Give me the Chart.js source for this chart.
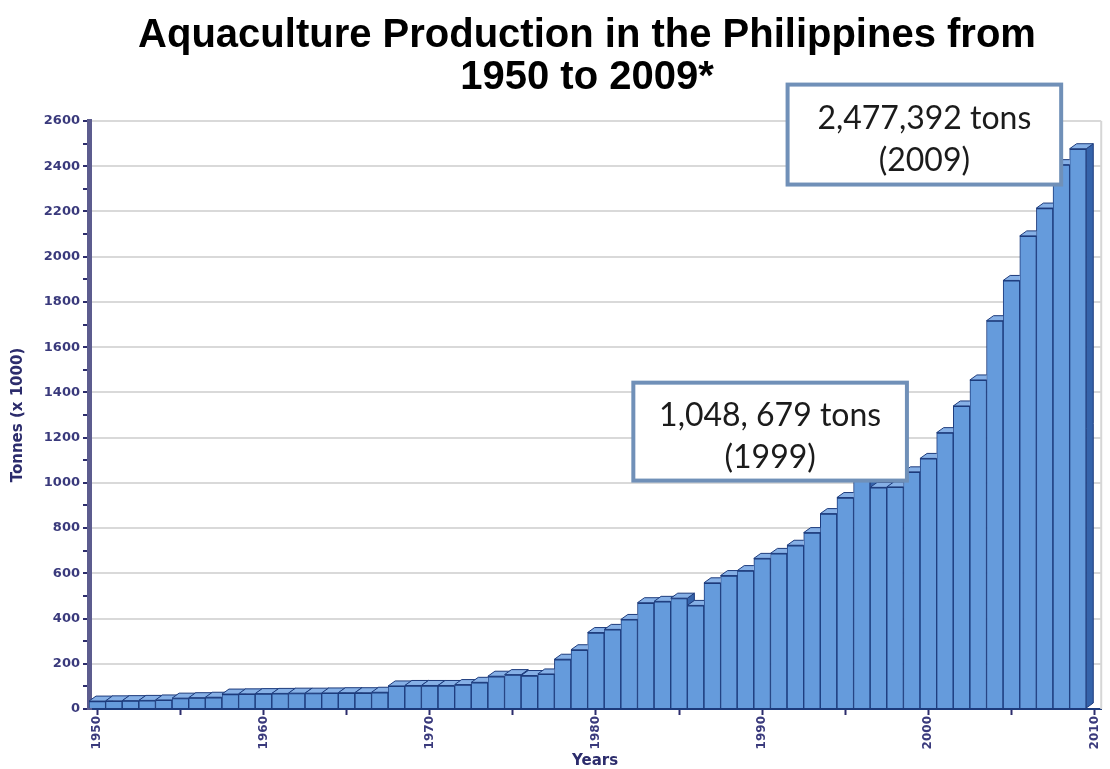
<!DOCTYPE html>
<html>
<head>
<meta charset="utf-8">
<title>Aquaculture Production in the Philippines, 1950–2009</title>
<script src="https://cdn.jsdelivr.net/npm/chart.js@4.4.1/dist/chart.umd.min.js"></script>
<style>
  html, body { margin: 0; padding: 0; background: #ffffff; }
  #wrap { width: 1110px; height: 769px; }
</style>
</head>
<body>
<div id="wrap"><canvas id="chart" width="1110" height="769"></canvas></div>
<script>
// Years on the horizontal axis
const years = [
  1950, 1951, 1952, 1953, 1954, 1955, 1956, 1957, 1958, 1959,
  1960, 1961, 1962, 1963, 1964, 1965, 1966, 1967, 1968, 1969,
  1970, 1971, 1972, 1973, 1974, 1975, 1976, 1977, 1978, 1979,
  1980, 1981, 1982, 1983, 1984, 1985, 1986, 1987, 1988, 1989,
  1990, 1991, 1992, 1993, 1994, 1995, 1996, 1997, 1998, 1999,
  2000, 2001, 2002, 2003, 2004, 2005, 2006, 2007, 2008, 2009
];

// Aquaculture production, tonnes x 1000
const production = [
  35, 36, 37, 38, 40, 48, 50, 52, 66, 67,
  68, 69, 70, 70, 71, 72, 72, 74, 102, 104,
  104, 104, 108, 118, 145, 152, 148, 155, 220, 262,
  338, 352, 396, 470, 476, 490, 458, 558, 590, 612,
  666, 688, 724, 780, 864, 935, 1010, 980, 982, 1048.679,
  1108, 1222, 1340, 1455, 1717, 1895, 2092, 2215, 2407, 2477.392
];

// Tick marks on the year axis; only the decades carry a label
const yearTicks = [1950, 1955, 1960, 1965, 1970, 1975, 1980, 1985, 1990, 1995, 2000, 2005, 2010];
const yearLabels = [1950, 1960, 1970, 1980, 1990, 2000, 2010];

// Tonnage axis: labelled every 200, small ticks every 100
const tonnesMax = 2600;
const tonnesLabelStep = 200;

// Heading lines
const titleLines = ['Aquaculture Production in the Philippines from', '1950 to 2009*'];

// Text of the two call-out boxes
const calloutText = [
  ['1,048, 679 tons', '(1999)'],
  ['2,477,392 tons', '(2009)']
];
// Where each call-out box sits, in axis units (year, tonnes x 1000)
const calloutFrames = [
  { x0: 1982.25, x1: 1998.71, y0: 1443, y1: 1010 },
  { x0: 1991.53, x1: 2007.99, y0: 2761, y1: 2319 }
];

const NAVY = '#2c2c6c';
const BAR_FILL = '#659bdc';
const BAR_EDGE = '#1d3b7c';
const BAR_TOP = '#86b0e6';
const BAR_SIDE = '#3563aa';

// Two-line heading above the plot
const heading = {
  id: 'heading',
  afterDraw(chart) {
    const ctx = chart.ctx;
    ctx.save();
    ctx.fillStyle = '#000000';
    ctx.font = 'bold 40px "Liberation Sans"';
    ctx.textAlign = 'center';
    ctx.textBaseline = 'middle';
    titleLines.forEach((t, k) => ctx.fillText(t, 587, 36 + k * 42));
    ctx.restore();
  }
};

// Draws the oblique top and right faces that give the bars their depth
const barDepth = {
  id: 'barDepth',
  afterDatasetsDraw(chart) {
    const ctx = chart.ctx;
    const bars = chart.getDatasetMeta(0).data;
    const dx = 7, dy = 5;
    bars.forEach((bar, i) => {
      const p = bar.getProps(['x', 'y', 'base', 'width'], true);
      const l = p.x - p.width / 2, r = p.x + p.width / 2;
      ctx.save();
      ctx.beginPath();
      ctx.rect(0, 0, chart.width, chart.height);
      const next = bars[i + 1];
      if (next) {
        const n = next.getProps(['x', 'y', 'base', 'width'], true);
        ctx.rect(n.x - n.width / 2, n.y, n.width, n.base - n.y);
      }
      ctx.clip('evenodd');
      ctx.lineWidth = 1;
      ctx.strokeStyle = BAR_EDGE;
      // right side face
      ctx.beginPath();
      ctx.moveTo(r, p.y);
      ctx.lineTo(r + dx, p.y - dy);
      ctx.lineTo(r + dx, p.base - dy);
      ctx.lineTo(r, p.base);
      ctx.closePath();
      ctx.fillStyle = BAR_SIDE;
      ctx.fill();
      ctx.stroke();
      // top face
      ctx.beginPath();
      ctx.moveTo(l, p.y);
      ctx.lineTo(l + dx, p.y - dy);
      ctx.lineTo(r + dx, p.y - dy);
      ctx.lineTo(r, p.y);
      ctx.closePath();
      ctx.fillStyle = BAR_TOP;
      ctx.fill();
      ctx.stroke();
      ctx.restore();
    });
  }
};

// Light frame line on the right edge of the plot
const plotEdge = {
  id: 'plotEdge',
  beforeDatasetsDraw(chart) {
    const { ctx, chartArea: a } = chart;
    ctx.save();
    ctx.strokeStyle = '#d6d6d6';
    ctx.lineWidth = 2;
    ctx.beginPath();
    ctx.moveTo(a.right, a.top);
    ctx.lineTo(a.right, a.bottom);
    ctx.stroke();
    ctx.restore();
  }
};

// White boxes with a blue-grey border holding the call-out text
const callouts = {
  id: 'callouts',
  afterDraw(chart) {
    const { ctx, scales: { x, y } } = chart;
    calloutFrames.forEach((f, i) => {
      const left = x.getPixelForValue(f.x0);
      const right = x.getPixelForValue(f.x1);
      const top = y.getPixelForValue(f.y0);
      const bottom = y.getPixelForValue(f.y1);
      ctx.save();
      ctx.fillStyle = '#ffffff';
      ctx.fillRect(left, top, right - left, bottom - top);
      ctx.lineWidth = 4;
      ctx.strokeStyle = '#7090b8';
      ctx.strokeRect(left, top, right - left, bottom - top);
      ctx.fillStyle = '#1b1b1b';
      ctx.font = '32px Lato';
      ctx.textAlign = 'center';
      ctx.textBaseline = 'middle';
      const cx = (left + right) / 2;
      const cy = (top + bottom) / 2 + 5;
      const lines = calloutText[i];
      const gap = 42;
      lines.forEach((t, k) => {
        ctx.fillText(t, cx, cy + (k - (lines.length - 1) / 2) * gap);
      });
      ctx.restore();
    });
  }
};

Chart.defaults.font.family = 'DejaVu Sans';

new Chart(document.getElementById('chart'), {
  type: 'bar',
  data: {
    datasets: [{
      data: years.map((yr, i) => ({ x: yr, y: production[i] })),
      backgroundColor: BAR_FILL,
      borderColor: BAR_EDGE,
      borderWidth: { left: 1, right: 1, top: 1.5, bottom: 0 },
      borderSkipped: false,
      barPercentage: 1,
      categoryPercentage: 1
    }]
  },
  options: {
    responsive: false,
    animation: false,
    layout: { padding: { left: 0, right: 4, top: 121, bottom: 0 } },
    plugins: {
      legend: { display: false },
      tooltip: { enabled: false },
      title: { display: false }
    },
    scales: {
      x: {
        type: 'linear',
        min: 1949.5,
        max: 2010.4,
        offset: false,
        afterBuildTicks: (scale) => { scale.ticks = yearTicks.map(v => ({ value: v })); },
        afterFit: (scale) => { scale.height = 60; },
        ticks: {
          autoSkip: false,
          minRotation: 90,
          maxRotation: 90,
          padding: 1,
          color: '#3a3a7c',
          font: { size: 12, weight: 'bold' },
          callback: (v) => (yearLabels.includes(v) ? String(v) : '')
        },
        grid: {
          offset: false,
          drawOnChartArea: false,
          drawTicks: true,
          tickLength: 6,
          tickColor: NAVY,
          tickWidth: 2
        },
        border: { display: true, color: BAR_EDGE, width: 2 },
        title: {
          display: true,
          text: 'Years',
          color: NAVY,
          font: { size: 15, weight: 'bold', lineHeight: 1 },
          padding: { top: 0, bottom: 0 }
        }
      },
      y: {
        min: 0,
        max: tonnesMax,
        afterFit: (scale) => { scale.width = 89; },
        ticks: {
          stepSize: 100,
          autoSkip: false,
          padding: 3,
          color: '#3a3a7c',
          font: { size: 13, weight: 'bold' },
          callback: (v) => (v % tonnesLabelStep === 0 ? String(v) : '')
        },
        grid: {
          color: (c) => (c.tick && c.tick.value % tonnesLabelStep === 0 ? '#d9d9d9' : 'rgba(0,0,0,0)'),
          lineWidth: 2,
          tickLength: 6,
          tickColor: NAVY,
          tickWidth: 2
        },
        border: { display: true, color: '#5c5c8e', width: 5 },
        title: {
          display: true,
          text: 'Tonnes (x 1000)',
          color: NAVY,
          font: { size: 15, weight: 'bold', lineHeight: 1.2 },
          padding: { top: 9, bottom: 0 }
        }
      }
    }
  },
  plugins: [plotEdge, barDepth, callouts, heading]
});
</script>
</body>
</html>
